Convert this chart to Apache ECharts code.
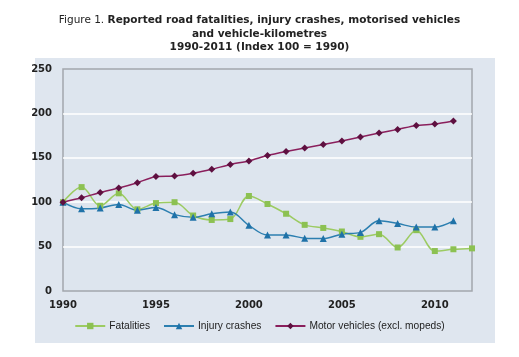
<!DOCTYPE html>
<html><head><meta charset="utf-8">
<script src="https://cdn.jsdelivr.net/npm/echarts@6/dist/echarts.min.js"></script>
<style>html,body{margin:0;padding:0;background:#fff}#c{width:519px;height:357px}</style>
</head><body><div id="c"></div>
<script>
const years = [1990,1991,1992,1993,1994,1995,1996,1997,1998,1999,2000,2001,2002,2003,2004,2005,2006,2007,2008,2009,2010,2011,2012];
const fatalities = [100,117,96,110,92,99,100,85,80,81,107,98,87,74.5,71,67,61,64,49,68.5,45,47,48];
const injuryCrashes = [100,92.5,93.5,97.5,91,94,86,83,87,89,74,63,63,59.5,59,64,66,79,76,72,72,79];
const motorVehicles = [100,105,111,116,122,129,129.5,132.5,137,142.5,146.5,152.5,157,161,165,169,173.5,178,182,186.5,188,191.5];
const seriesNames = ['Fatalities','Injury crashes','Motor vehicles (excl. mopeds)'];

const pairs = (arr) => arr.map((v,i)=>[years[i], v]);
const chart = echarts.init(document.getElementById('c'));
chart.setOption({
  animation:false,
  backgroundColor:'#fff',
  graphic:[{type:'rect',z:-10,shape:{x:35,y:58,width:460,height:285},style:{fill:'#dfe6ef'}}],
  title:{
    left:'center', top:9,
    text:'{n|Figure 1. }{b|Reported road fatalities, injury crashes, motorised vehicles}\n{b|and vehicle-kilometres}\n{b|1990-2011 (Index 100 = 1990)}',
    textStyle:{
      lineHeight:13.5, align:'center', fontWeight:'normal',
      rich:{
        n:{fontFamily:'DejaVu Sans',fontSize:10.5,fontWeight:'normal',color:'#222',lineHeight:13.5,align:'center'},
        b:{fontFamily:'DejaVu Sans',fontSize:10.5,fontWeight:'bold',color:'#222',lineHeight:13.5,align:'center'}
      }
    }
  },
  grid:{left:63,right:47,top:69,bottom:66,show:true,backgroundColor:'#dde5ee',borderColor:'#a3a7ad',borderWidth:1.5},
  legend:{
    bottom:21,left:'center',itemWidth:30,itemHeight:8,itemGap:13,
    textStyle:{fontFamily:'Liberation Sans',fontSize:10.2,color:'#222',padding:[0,0,0,-1]},
    data:seriesNames
  },
  xAxis:{type:'value',min:1990,max:2012,interval:5,
    axisLine:{show:false},axisTick:{show:false},splitLine:{show:false},
    axisLabel:{fontFamily:'DejaVu Sans',fontWeight:'bold',fontSize:10,color:'#222',margin:9,showMaxLabel:false,formatter:(v)=>String(v)}},
  yAxis:{type:'value',min:0,max:250,interval:50,
    axisLine:{show:false},axisTick:{show:false},
    splitLine:{showMinLine:false,showMaxLine:false,lineStyle:{color:'#ffffff',width:1.5}},
    axisLabel:{fontFamily:'DejaVu Sans',fontWeight:'bold',fontSize:10,color:'#222',margin:11}},
  series:[
    {name:seriesNames[0],type:'line',smooth:0.35,data:pairs(fatalities),symbol:'rect',symbolSize:6,
      lineStyle:{color:'#9ccb62',width:1.5},itemStyle:{color:'#8cc152'}},
    {name:seriesNames[1],type:'line',smooth:0.35,data:pairs(injuryCrashes),symbol:'triangle',symbolSize:7,
      lineStyle:{color:'#2c7fb0',width:1.5},itemStyle:{color:'#1f72a8'}},
    {name:seriesNames[2],type:'line',smooth:0.2,data:pairs(motorVehicles),symbol:'diamond',symbolSize:7,
      lineStyle:{color:'#8a1f5c',width:1.5},itemStyle:{color:'#5e1040'}}
  ]
});
</script></body></html>
